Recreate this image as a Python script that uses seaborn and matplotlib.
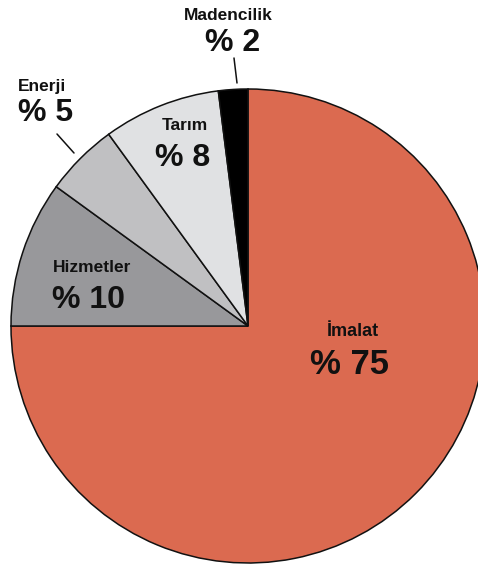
import matplotlib
matplotlib.use("Agg")
import matplotlib.pyplot as plt
from matplotlib import font_manager
import seaborn as sns

sns.set_theme(style="white")

# Sector shares (%)
sectors = ["İmalat", "Hizmetler", "Enerji", "Tarım", "Madencilik"]
shares = [75, 10, 5, 8, 2]
colors = ["#DB6A50", "#98989B", "#C0C0C2", "#E0E1E3", "#000000"]

available = {f.name for f in font_manager.fontManager.ttflist}
name_font = "Liberation Sans Narrow" if "Liberation Sans Narrow" in available else "Liberation Sans"
pct_font = "Liberation Sans"

W, H = 478, 566
fig = plt.figure(figsize=(W / 100, H / 100), dpi=100)
ax = fig.add_axes([0, 0, 1, 1])

# pie geometry in pixels: centre and radius
cx, cy, r = 248, 326, 237
ax.pie(shares, colors=colors, startangle=90, counterclock=False,
       radius=1.0, center=(0, 0),
       wedgeprops=dict(edgecolor="#111111", linewidth=1.1))

ax.set_xlim(-cx / r, (W - cx) / r)
ax.set_ylim(-(H - cy) / r, cy / r)
ax.set_aspect("auto")
ax.axis("off")


def px(x, y):
    return ((x - cx) / r, (cy - y) / r)


# label positions (pixel coordinates of text centres)
name_pos = {
    "İmalat": (353, 332),
    "Hizmetler": (92, 268),
    "Enerji": (42, 87),
    "Tarım": (185, 126),
    "Madencilik": (228, 15),
}
pct_pos = {
    "İmalat": (350, 365),
    "Hizmetler": (89, 300),
    "Enerji": (46, 113),
    "Tarım": (183, 158),
    "Madencilik": (233, 43),
}

for s, v in zip(sectors, shares):
    big = s == "İmalat"
    ax.text(*px(*name_pos[s]), s, ha="center", va="center",
            fontsize=13 if big else 12.5, family=name_font, fontweight="bold",
            color="#111111")
    ax.text(*px(*pct_pos[s]), f"% {v}", ha="center", va="center",
            fontsize=25 if big else 23, family=pct_font, fontweight="bold",
            color="#111111")

# leader lines for the thin slices
ax.plot(*zip(px(234, 58), px(237, 83)), color="#111111", lw=1.1)
ax.plot(*zip(px(57, 134), px(74, 153)), color="#111111", lw=1.1)

fig.savefig("out.png", dpi=100, facecolor="white")
